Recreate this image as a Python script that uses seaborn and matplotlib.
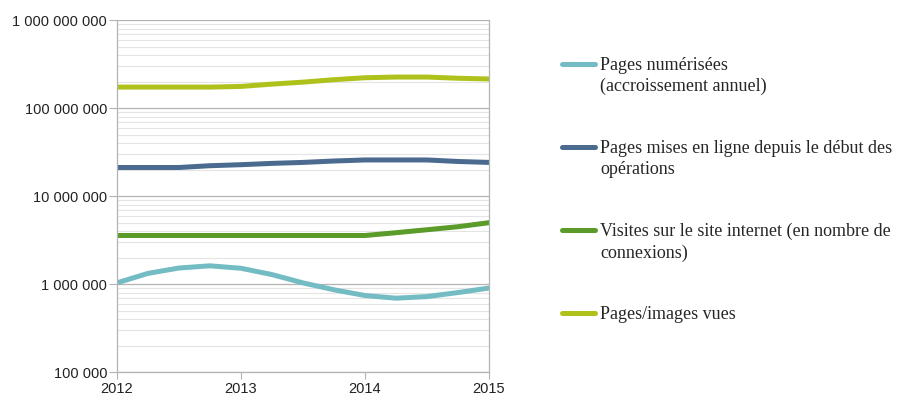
import matplotlib
matplotlib.use("Agg")
import matplotlib.pyplot as plt
import matplotlib.ticker as mticker
import seaborn as sns
import pandas as pd

# values, every quarter year
annees = [2012, 2012.25, 2012.5, 2012.75, 2013, 2013.25, 2013.5, 2013.75,
          2014, 2014.25, 2014.5, 2014.75, 2015]
pages_numerisees = [1.03e6, 1.32e6, 1.52e6, 1.61e6, 1.51e6, 1.28e6, 1.03e6,
                    8.6e5, 7.4e5, 6.9e5, 7.2e5, 8.0e5, 9.0e5]
pages_en_ligne = [2.11e7, 2.11e7, 2.11e7, 2.21e7, 2.27e7, 2.35e7, 2.41e7,
                  2.50e7, 2.57e7, 2.57e7, 2.57e7, 2.47e7, 2.41e7]
visites = [3.56e6, 3.56e6, 3.56e6, 3.56e6, 3.56e6, 3.56e6, 3.56e6,
           3.56e6, 3.56e6, 3.83e6, 4.14e6, 4.48e6, 4.98e6]
pages_vues = [1.73e8, 1.73e8, 1.73e8, 1.73e8, 1.76e8, 1.87e8, 1.97e8,
              2.10e8, 2.21e8, 2.25e8, 2.25e8, 2.18e8, 2.14e8]

series = ["Pages numérisées\n(accroissement annuel)",
          "Pages mises en ligne depuis le début des\nopérations",
          "Visites sur le site internet (en nombre de\nconnexions)",
          "Pages/images vues"]
couleurs = ["#74bcc4", "#4b6a90", "#5a9b2a", "#afc21c"]
annees_ticks = [2012, 2013, 2014, 2015]

rows = []
for nom, valeurs in zip(series, [pages_numerisees, pages_en_ligne, visites, pages_vues]):
    for a, v in zip(annees, valeurs):
        rows.append({"annee": a, "valeur": v, "serie": nom})
df = pd.DataFrame(rows)

sns.set_style("white")
plt.rcParams["font.family"] = ["Liberation Sans", "DejaVu Sans"]

fig = plt.figure(figsize=(8.99, 4.01), dpi=100)
ax = fig.add_axes([0.130, 0.0723, 0.414, 0.8777])

sns.lineplot(data=df, x="annee", y="valeur", hue="serie", hue_order=series,
             palette=couleurs, linewidth=3.6, ax=ax, legend=True)

ax.set_yscale("log")
ax.set_ylim(1e5, 1e9)
ax.set_xlim(2012, 2015)
ax.set_xticks(annees_ticks)
ax.set_xticklabels([str(a) for a in annees_ticks])
ax.yaxis.set_major_formatter(mticker.FuncFormatter(lambda v, p: f"{int(round(v)):,}".replace(",", " ")))
ax.yaxis.set_minor_locator(mticker.LogLocator(base=10, subs=range(2, 10)))
ax.yaxis.set_minor_formatter(mticker.NullFormatter())
ax.grid(True, which="major", axis="y", color="#b3b3b3", linewidth=0.9)
ax.grid(True, which="minor", axis="y", color="#e4e4e4", linewidth=0.8)
ax.tick_params(axis="y", which="major", direction="out", length=5.5, width=0.8,
               color="#b3b3b3", pad=1.5, labelsize=10.5, labelcolor="#222222", left=True)
ax.tick_params(axis="y", which="minor", length=0)
ax.tick_params(axis="x", direction="out", length=5, width=0.8, color="#b3b3b3",
               pad=2, labelsize=10.5, labelcolor="#222222", bottom=True)
for s in ["left", "right", "bottom"]:
    ax.spines[s].set_color("#b3b3b3")
    ax.spines[s].set_linewidth(0.9)
ax.spines["top"].set_visible(False)
ax.set_xlabel("")
ax.set_ylabel("")

leg = ax.legend(loc="upper left", bbox_to_anchor=(0.625, 0.859), bbox_transform=fig.transFigure,
                frameon=False, borderpad=0, borderaxespad=0, handlelength=1.85,
                handletextpad=0.28, labelspacing=2.45,
                prop={"family": "Liberation Serif", "size": 13})
for t in leg.get_texts():
    t.set_linespacing(1.35)
for i, line in enumerate(leg.get_lines()):
    line.set_linewidth(3.6)
    if "\n" in series[i]:
        line.set_ydata([y + 8.8 for y in line.get_ydata()])

plt.savefig("out.png", dpi=100)
plt.close()
